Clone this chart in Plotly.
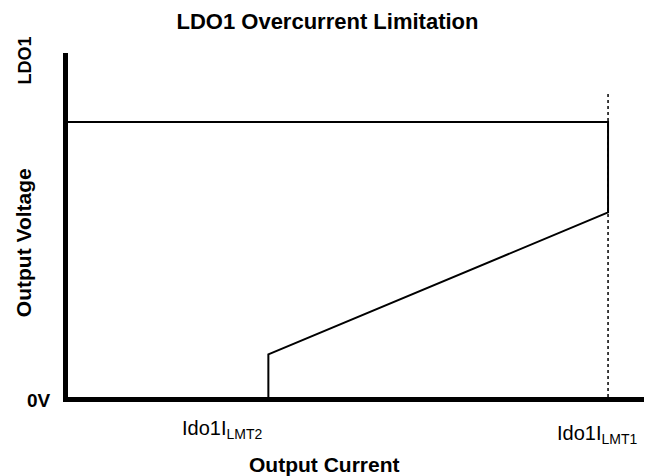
import plotly.graph_objects as go

# ---- data (normalised units) ----
curve_current = [0.0, 1.0, 1.0, 0.371, 0.371]
curve_voltage = [1.0, 1.0, 0.671, 0.155, 0.0]
limit_current = [1.0, 1.0]
limit_voltage = [0.0, 1.109]
x_tick_vals = [0.371, 1.0]
x_tick_text = ["Ido1I<sub>LMT2</sub>", "Ido1I<sub>LMT1</sub>"]
y_tick_vals = [0.0, 1.2505]
y_tick_text = ["0V", "LDO1"]

FONT = "Liberation Sans"

fig = go.Figure()
fig.add_trace(go.Scatter(x=limit_current, y=limit_voltage, mode="lines",
                         line=dict(color="black", width=1.5, dash="dot"),
                         hoverinfo="skip", showlegend=False))
fig.add_trace(go.Scatter(x=curve_current, y=curve_voltage, mode="lines",
                         line=dict(color="black", width=2),
                         hoverinfo="skip", showlegend=False))

# x tick labels
fig.add_annotation(x=x_tick_vals[0], y=0, xref="x", yref="y", text=x_tick_text[0],
                   showarrow=False, xanchor="right", yanchor="middle", yshift=-32, xshift=-4,
                   font=dict(family=FONT, size=20, color="black"))
fig.add_annotation(x=x_tick_vals[1], y=0, xref="x", yref="y", text=x_tick_text[1],
                   showarrow=False, xanchor="right", yanchor="middle", yshift=-37, xshift=31,
                   font=dict(family=FONT, size=20, color="black"))
# y tick labels
fig.add_annotation(x=0, y=y_tick_vals[0], xref="paper", yref="y", text="<b>" + y_tick_text[0] + "</b>",
                   showarrow=False, xanchor="center", yanchor="middle", xshift=-29.5, yshift=-3,
                   font=dict(family=FONT, size=19, color="black"))
fig.add_annotation(x=0, y=y_tick_vals[1], xref="paper", yref="y", text="<b>" + y_tick_text[1] + "</b>",
                   showarrow=False, xanchor="center", yanchor="middle", textangle=-90,
                   xshift=-43.5, yshift=-8,
                   font=dict(family=FONT, size=18, color="black"))
# axis titles
fig.add_annotation(x=0, y=0.561, xref="paper", yref="y", text="<b>Output Voltage</b>",
                   showarrow=False, xanchor="center", yanchor="middle", textangle=-90,
                   xshift=-44.5, font=dict(family=FONT, size=21, color="black"))
fig.add_annotation(x=0.433, y=0, xref="paper", yref="paper", text="<b>Output Current</b>",
                   showarrow=False, xanchor="center", yanchor="middle", yshift=-67,
                   font=dict(family=FONT, size=21, color="black"))

fig.update_layout(
    width=652, height=476,
    margin=dict(l=59.5, r=0, t=45, b=86.5),
    paper_bgcolor="white", plot_bgcolor="white",
    title=dict(text="<b>LDO1 Overcurrent Limitation</b>", x=0.49, xanchor="center",
               y=0.972, yanchor="middle",
               font=dict(family=FONT, size=22, color="black")),
    xaxis=dict(range=[0, 1.0962], showgrid=False, zeroline=False, showticklabels=False,
               ticks="", showline=True, linecolor="black", linewidth=5, fixedrange=True),
    yaxis=dict(range=[0, 1.2505], showgrid=False, zeroline=False, showticklabels=False,
               ticks="", showline=True, linecolor="black", linewidth=5, fixedrange=True),
)

fig.write_html("out.html")
